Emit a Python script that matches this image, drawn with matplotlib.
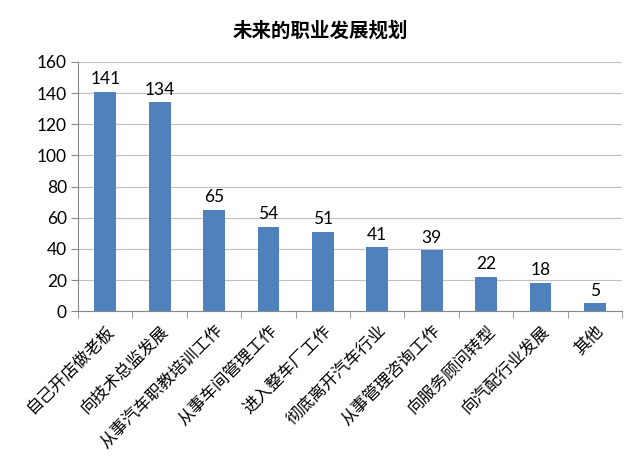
import matplotlib
matplotlib.use('Agg')
import matplotlib.pyplot as plt
import numpy as np

plt.rcParams['font.family'] = ['Noto Sans CJK SC', 'DejaVu Sans']

categories = ['自己开店做老板', '向技术总监发展', '从事汽车职教培训工作', '从事车间管理工作',
              '进入整车厂工作', '彻底离开汽车行业', '从事管理咨询工作', '向服务顾问转型',
              '向汽配行业发展', '其他']
values = [141, 134, 65, 54, 51, 41, 39, 22, 18, 5]

num_font = ['Lato', 'DejaVu Sans']

fig = plt.figure(figsize=(6.4, 4.59), dpi=100)
ax = fig.add_axes([0.122, 0.322, 0.85, 0.543])

x = np.arange(len(categories))
bars = ax.bar(x, values, width=0.4, color='#4F81BD', zorder=3)
for xi, v in zip(x, values):
    ax.text(xi, v + 3, str(v), ha='center', va='bottom', fontsize=12.5,
            family=num_font, color='#000000')

ax.set_xlim(-0.5, len(categories) - 0.5)
ax.set_ylim(0, 160)
ax.set_yticks(range(0, 161, 20))
ax.grid(axis='y', color='#BFBFBF', linewidth=0.8, zorder=0)
ax.tick_params(axis='y', labelsize=12.5, length=5, color='#888888', pad=3)
for lbl in ax.get_yticklabels():
    lbl.set_family(num_font)

ax.set_xticks(x)
ax.set_xticklabels(categories, rotation=45, ha='right', rotation_mode='anchor', fontsize=12)
ax.set_xticks(np.arange(-0.5, len(categories)), minor=True)
ax.tick_params(axis='x', which='major', length=0, pad=8)
ax.tick_params(axis='x', which='minor', length=5, color='#888888')

for s in ['top', 'right']:
    ax.spines[s].set_visible(False)
ax.spines['left'].set_color('#888888')
ax.spines['bottom'].set_color('#888888')

fig.suptitle('未来的职业发展规划', x=0.5, y=0.955, fontsize=14, fontweight='bold')

fig.savefig('out.png', dpi=100)
